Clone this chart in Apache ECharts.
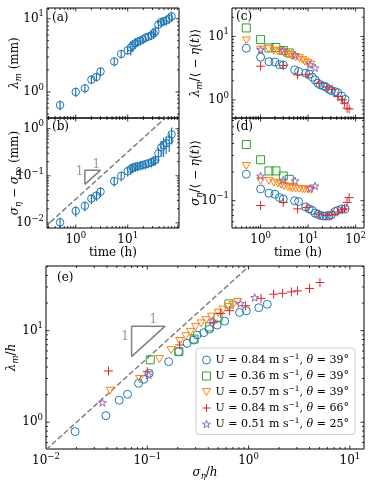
<!DOCTYPE html>
<html><head><meta charset="utf-8">
<script src="https://cdn.jsdelivr.net/npm/echarts@6/dist/echarts.min.js"></script>
<style>html,body{margin:0;padding:0;background:#fff}#c{width:368px;height:480px}</style>
</head><body><div id="c"></div>
<script>
// ---------------- data ----------------
// panels (a),(b): run U=0.84, theta=39
const timeAB = [0.5,1,1.5,2,2.5,3,5.5,7.5,10,11.5,12.5,14,15.5,17.5,19.5,22,25,28.5,31.5,34,39,44,49,55,63,70];
const lambdaM = [0.66,1.0,1.12,1.47,1.6,1.9,2.6,3.3,3.7,4.05,4.3,4.6,4.85,5.0,5.2,5.5,5.7,5.9,6.3,6.7,8.3,9.0,9.2,9.5,10.1,10.8];
const lambdaMErr = [0.1,0.15,0.16,0.2,0.22,0.27,0.36,0.45,0.5,0.9,0.8,0.7,0.7,0.7,0.7,0.7,0.7,0.8,0.8,0.9,1.2,1.3,1.3,1.4,1.5,1.6];
const sigmaDiff = [0.0103,0.018,0.023,0.033,0.038,0.046,0.077,0.1,0.126,0.14,0.15,0.155,0.16,0.165,0.17,0.177,0.185,0.195,0.205,0.215,0.3,0.4,0.45,0.49,0.57,0.76];
const sigmaDiffErr = [0.0025,0.0045,0.0055,0.008,0.009,0.011,0.018,0.024,0.03,0.035,0.035,0.035,0.035,0.035,0.035,0.04,0.04,0.045,0.045,0.05,0.1,0.15,0.2,0.2,0.25,0.3];

// panels (c),(d): five runs
const tRun1 = [0.5,1,1.5,2,2.5,3,5.2,6.3,8.9,10.5,12.3,14,16,18,21,24,27.5,31,37,42,51,60];
const lamRun1 = [6.5,4.7,4.0,3.95,3.6,3.55,2.98,2.8,2.64,2.55,2.28,2.07,1.83,1.73,1.66,1.59,1.47,1.4,1.35,1.3,1.15,1.02];
const sigRun1 = [0.19,0.133,0.12,0.117,0.108,0.104,0.1,0.098,0.086,0.082,0.079,0.074,0.072,0.07,0.069,0.069,0.069,0.071,0.077,0.079,0.082,0.082];
const tRun2 = [0.5,1,1.5,2.1,3,4];
const lamRun2 = [13.6,8.9,6.6,6.7,6.0,5.5];
const sigRun2 = [0.39,0.27,0.206,0.206,0.182,0.168];
const tRun3 = [0.5,1,1.5,1.9,2.3,2.7,3.1,3.7,4.2,4.7,5.5,6.5,7.6,8.5,10,11.4];
const lamRun3 = [8.65,6.2,6.3,6.0,5.8,5.8,5.46,5.26,5.14,4.83,4.72,4.55,4.28,4.03,3.8,3.57];
const sigRun3 = [0.232,0.162,0.162,0.155,0.152,0.148,0.143,0.14,0.137,0.135,0.134,0.133,0.132,0.132,0.131,0.13];
const tRun4 = [1,3,6,9.5,17,25,32,42,53,58,66,73];
const lamRun4 = [3.4,3.5,2.48,2.5,1.83,1.6,1.47,1.13,1.0,0.89,0.74,0.72];
const sigRun4 = [0.089,0.096,0.082,0.085,0.072,0.07,0.072,0.076,0.08,0.082,0.096,0.108];
const tRun5 = [1,3,5.3,11,14];
const lamRun5 = [6.2,6.1,5.1,3.6,3.2];
const sigRun5 = [0.182,0.165,0.162,0.135,0.143];

// panel (e): sigma/h vs lambda/h
const eRun1X = [0.0194,0.039,0.0528,0.0638,0.082,0.0922,0.1045,0.1625,0.204,0.247,0.287,0.31,0.361,0.41,0.49,0.58,0.815,0.95,1.26,1.53];
const eRun1Y = [0.79,1.18,1.74,2.02,2.66,2.94,3.42,4.58,5.9,7.27,7.9,8.96,9.5,10.4,11.5,12.7,15.8,16.5,17.8,19.4];
const eRun2X = [0.107,0.205,0.29,0.41,0.5,0.64];
const eRun2Y = [4.8,5.9,8.1,11,14,19.6];
const eRun3X = [0.043,0.084,0.132,0.172,0.209,0.24,0.267,0.3,0.34,0.38,0.43,0.5,0.56,0.63,0.7,0.78];
const eRun3Y = [2.21,2.97,4.9,6.14,7.7,8.7,9.7,11.0,12.0,13.0,14.2,15.7,17,18.2,19,20.6];
const eRun4X = [0.0414,0.1,0.209,0.45,0.53,0.65,0.935,1.33,1.77,2.17,2.65,3.04,4.0,5.07];
const eRun4Y = [3.63,3.56,6.97,12.2,15.4,16.5,18.7,22.5,25,25.6,26.5,27.2,28.9,33.5];
const eRun5X = [0.036,0.103,0.44,0.83,1.15];
const eRun5Y = [1.64,3.28,12.8,19.8,23.0];

// slope-1 guides and triangles
const guideBX = [0.25, 60];
const guideBY = [0.008, 1.92];
const guideEX = [0.01, 1.2];
const guideEY = [0.5, 60];
const triBX = [1.5, 1.5, 3.0, 1.5];
const triBY = [0.066, 0.132, 0.132, 0.066];
const triBLabelX = [2.5, 1.19];
const triBLabelY = [0.169, 0.12];
const triEX = [0.07, 0.07, 0.15, 0.07];
const triEY = [5.2, 11.2, 11.2, 5.2];
const triELabelX = [0.115, 0.0605];
const triELabelY = [13.1, 8.5];

const runU = ['0.84','0.36','0.57','0.84','0.51'];
const runTheta = ['39','39','39','66','25'];
const panelLabels = ['(a)','(b)','(c)','(d)','(e)'];

// ---------------- styles ----------------
const FONT = 'DejaVu Serif';
const COL = ['#1f77b4','#2ca02c','#ff7f0e','#d62728','#9467bd'];
const SYM = [
  'circle',
  'rect',
  'path://M0,0 L10,0 L5,8.66 Z',
  'path://M5,0 L5,10 M0,5 L10,5',
  'path://M10,0 L12.25,6.91 L19.51,6.91 L13.63,11.18 L15.88,18.09 L10,13.82 L4.12,18.09 L6.37,11.18 L0.49,6.91 L7.75,6.91 Z'
];
const SIZE = [8, 8, 8, 9, 8];
const runNames = runU.map((u,k)=>'U = '+u+' m s-1, θ = '+runTheta[k]);

const G = [
  {left:47, top:8, width:132, height:110, x:[0.28,97], y:[0.44,14]},
  {left:47, top:118, width:132, height:110, x:[0.28,97], y:[0.0078,1.69]},
  {left:232, top:8, width:132, height:110, x:[0.25,150], y:[0.52,28]},
  {left:232, top:118, width:132, height:110, x:[0.25,150], y:[0.0516,0.743]},
  {left:46, top:266, width:318, height:183, x:[0.01,13.8], y:[0.51,50.8]}
];

const tickRich = {
  b:{fontFamily:FONT, fontSize:12, lineHeight:18, color:'#000'},
  s:{fontFamily:FONT, fontSize:8.5, lineHeight:9, verticalAlign:'top', color:'#000'}
};
const nameRich = {
  t:{fontFamily:FONT, fontSize:12, lineHeight:16, color:'#000'},
  i:{fontFamily:FONT, fontStyle:'italic', fontSize:12, lineHeight:16, color:'#000'},
  sub:{fontFamily:FONT, fontStyle:'italic', fontSize:8.5, lineHeight:9, verticalAlign:'bottom', color:'#000'},
  sub0:{fontFamily:FONT, fontSize:6.5, lineHeight:6, verticalAlign:'bottom', color:'#000'}
};
function powLabel(v){
  const l = Math.log10(v), r = Math.round(l);
  if (Math.abs(l-r) > 1e-6) return '';
  return '{b|10}{s|' + (r<0 ? '−'+(-r) : r) + '}';
}
function tickValues(r){
  const out=[];
  const k0=Math.floor(Math.log10(r[0]))-1, k1=Math.ceil(Math.log10(r[1]));
  for(let k=k0;k<=k1;k++) for(let m=1;m<=9;m++){
    const v=m*Math.pow(10,k);
    if(v>=r[0]*1.0001 && v<=r[1]*0.9999) out.push([v, m===1]);
  }
  return out;
}
function tickSeries(i){
  const g=G[i];
  return {type:'custom', xAxisIndex:i, yAxisIndex:i, silent:true, z:10, clip:false,
    data:[[g.x[0]*1.5, g.y[0]*1.5]],
    renderItem:(p,api)=>{
      const cs=p.coordSys; const ch=[];
      const mk=(x1,y1,x2,y2)=>({type:'line', shape:{x1,y1,x2,y2}, style:{stroke:'#000', lineWidth:0.8}});
      for(const [v,maj] of tickValues(g.x)){
        const px=api.coord([v,g.y[0]*1.5])[0]; const L=maj?3.5:2;
        ch.push(mk(px,cs.y+cs.height,px,cs.y+cs.height-L));
        ch.push(mk(px,cs.y,px,cs.y+L));
      }
      for(const [v,maj] of tickValues(g.y)){
        const py=api.coord([g.x[0]*1.5,v])[1]; const L=maj?3.5:2;
        ch.push(mk(cs.x,py,cs.x+L,py));
        ch.push(mk(cs.x+cs.width,py,cs.x+cs.width-L,py));
      }
      return {type:'group', children:ch};
    }};
}
function errSeries(i, xs, ys, es){
  return {type:'custom', xAxisIndex:i, yAxisIndex:i, silent:true, clip:true, z:4,
    dimensions:['x','y','e'], encode:{x:0, y:1},
    data: xs.map((x,k)=>[x, ys[k], es[k]]),
    renderItem:(p,api)=>{
      const x=api.value(0), y=api.value(1), e=api.value(2);
      const a=api.coord([x,y-e]), b=api.coord([x,y+e]);
      return {type:'line', shape:{x1:a[0],y1:a[1],x2:b[0],y2:b[1]}, style:{stroke:COL[0], lineWidth:1.2}};
    }};
}
function sc(i, xs, ys, run, name, size){
  return {type:'scatter', name:name, xAxisIndex:i, yAxisIndex:i, silent:true, clip:true, z:5,
    data: xs.map((x,k)=>[x, ys[k]]),
    symbol: SYM[run], symbolSize: size || SIZE[run], symbolKeepAspect:true,
    itemStyle:{color:'rgba(0,0,0,0)', borderColor:COL[run], borderWidth:1, opacity:1},
    emphasis:{disabled:true}};
}
function guide(i, xs, ys, dashed){
  return {type:'line', xAxisIndex:i, yAxisIndex:i, silent:true, clip:true, z:3,
    data: xs.map((x,k)=>[x, ys[k]]), symbol:'none', showSymbol:false,
    lineStyle:{color:'#808080', width:1.5, type: dashed ? [5.5,2.5] : 'solid'}};
}
function oneLabels(i, xs, ys){
  return {type:'scatter', xAxisIndex:i, yAxisIndex:i, silent:true, z:6,
    data: xs.map((x,k)=>[x, ys[k]]), symbolSize:1, itemStyle:{color:'rgba(0,0,0,0)'},
    label:{show:true, position:'inside', formatter:'1', color:'#808080', fontFamily:FONT, fontSize:12}};
}

const yNames = [
  '{i|λ}{sub|m}{t| (mm)}',
  '{i|σ}{sub|η}{t| − }{i|σ}{sub|η}{sub0|0}{t| (mm)}',
  '{i|λ}{sub|m}{t|/⟨ − }{i|η}{t|(}{i|t}{t|)⟩}',
  '{i|σ}{sub|η}{t|/⟨ − }{i|η}{t|(}{i|t}{t|)⟩}',
  '{i|λ}{sub|m}{t|/}{i|h}'
];
const yGaps = [24, 24, 28, 28, 26];
const xNames = ['', '{t|time (h)}', '', '{t|time (h)}', '{i|σ}{sub|η}{t|/}{i|h}'];

const grid = G.map(g=>({left:g.left, top:g.top, width:g.width, height:g.height, show:true,
  borderColor:'#000', borderWidth:1, backgroundColor:'rgba(0,0,0,0)', containLabel:false, outerBoundsMode:'none'}));
const xAxis = G.map((g,i)=>({gridIndex:i, type:'log', min:g.x[0], max:g.x[1],
  axisLine:{show:false}, axisTick:{show:false}, splitLine:{show:false}, minorTick:{show:false},
  axisLabel:{show: i!==0 && i!==2, formatter:powLabel, rich:tickRich, margin:3, hideOverlap:false},
  name:xNames[i], nameLocation:'middle', nameGap: i===4 ? 16 : 17, nameMoveOverlap:false,
  nameTextStyle:{rich:nameRich}}));
const yAxis = G.map((g,i)=>({gridIndex:i, type:'log', min:g.y[0], max:g.y[1],
  axisLine:{show:false}, axisTick:{show:false}, splitLine:{show:false}, minorTick:{show:false},
  axisLabel:{formatter:powLabel, rich:tickRich, margin:3, hideOverlap:false},
  name:yNames[i], nameLocation:'middle', nameRotate:90, nameGap:yGaps[i], nameMoveOverlap:false,
  nameTextStyle:{rich:nameRich}}));

const series = [];
for (let i=0;i<5;i++) series.push(tickSeries(i));
// (a)
series.push(errSeries(0, timeAB, lambdaM, lambdaMErr));
series.push(sc(0, timeAB, lambdaM, 0, 'a', 7.5));
// (b)
series.push(guide(1, guideBX, guideBY, true));
series.push(guide(1, triBX, triBY, false));
series.push(oneLabels(1, triBLabelX, triBLabelY));
series.push(errSeries(1, timeAB, sigmaDiff, sigmaDiffErr));
series.push(sc(1, timeAB, sigmaDiff, 0, 'b', 7.5));
// (c),(d)
const tRuns=[tRun1,tRun2,tRun3,tRun4,tRun5];
const lamRuns=[lamRun1,lamRun2,lamRun3,lamRun4,lamRun5];
const sigRuns=[sigRun1,sigRun2,sigRun3,sigRun4,sigRun5];
const eX=[eRun1X,eRun2X,eRun3X,eRun4X,eRun5X];
const eY=[eRun1Y,eRun2Y,eRun3Y,eRun4Y,eRun5Y];
// (e) first so legend takes its styles
series.push(guide(4, guideEX, guideEY, true));
series.push(guide(4, triEX, triEY, false));
series.push(oneLabels(4, triELabelX, triELabelY));
for (let r=0;r<5;r++) series.push(sc(4, eX[r], eY[r], r, runNames[r]));
for (let r=0;r<5;r++) series.push(sc(2, tRuns[r], lamRuns[r], r, 'c'+r));
for (let r=0;r<5;r++) series.push(sc(3, tRuns[r], sigRuns[r], r, 'd'+r));

const legendRich = {
  t:{fontFamily:FONT, fontSize:11, lineHeight:14, color:'#000'},
  i:{fontFamily:FONT, fontStyle:'italic', fontSize:11, lineHeight:14, color:'#000'},
  sup:{fontFamily:FONT, fontSize:7.5, lineHeight:8, verticalAlign:'top', color:'#000'}
};

const option = {
  animation:false,
  backgroundColor:'#fff',
  grid, xAxis, yAxis, series,
  legend:{
    data: runNames, orient:'vertical', left:196, top:348,
    itemWidth:8, itemHeight:8, itemGap:3.5, padding:[5,6,5,6],
    backgroundColor:'rgba(255,255,255,0.8)', borderColor:'#cccccc', borderWidth:1, borderRadius:3,
    selectedMode:false,
    itemStyle:{borderWidth:1},
    textStyle:{rich:legendRich},
    formatter:(name)=>{ const k=runNames.indexOf(name);
      return '{t|U = '+runU[k]+' m s}{sup|−1}{t|, }{i|θ}{t| = '+runTheta[k]+'°}'; }
  },
  graphic: [
    {type:'text', left:52, top:12, style:{text:panelLabels[0], font:'12px "DejaVu Serif"', fill:'#000'}},
    {type:'text', left:52, top:121, style:{text:panelLabels[1], font:'12px "DejaVu Serif"', fill:'#000'}},
    {type:'text', left:236, top:11, style:{text:panelLabels[2], font:'12px "DejaVu Serif"', fill:'#000'}},
    {type:'text', left:236, top:121, style:{text:panelLabels[3], font:'12px "DejaVu Serif"', fill:'#000'}},
    {type:'text', left:57, top:272, style:{text:panelLabels[4], font:'12px "DejaVu Serif"', fill:'#000'}}
  ]
};
const chart = echarts.init(document.getElementById('c'), null, {renderer:'canvas'});
chart.setOption(option);
</script></body></html>
